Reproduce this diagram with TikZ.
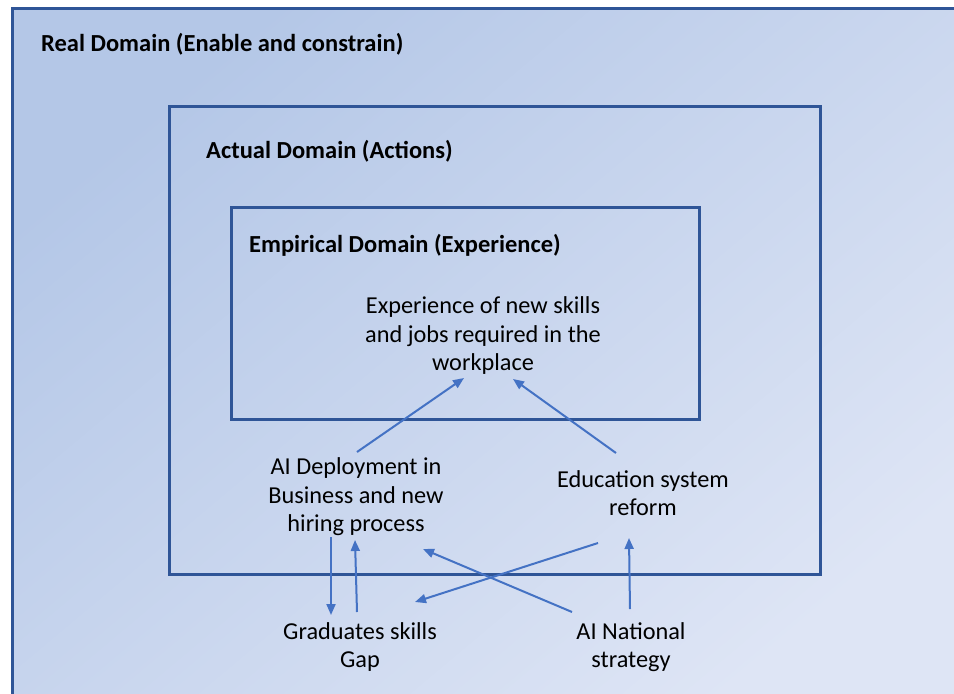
\documentclass[tikz,border=0pt]{standalone}
\usepackage{fontspec}
\setmainfont{Carlito}
\usetikzlibrary{arrows.meta}
\definecolor{boxblue}{HTML}{2F5597}
\definecolor{arrblue}{HTML}{4472C4}
\definecolor{gradA}{HTML}{B4C7E7}
\definecolor{gradB}{HTML}{DEE5F5}
\tikzset{
  domainbox/.style={draw=boxblue,line width=3pt},
  title/.style={anchor=base west,inner sep=0pt,font=\fontsize{24.5}{28}\selectfont\bfseries},
  body/.style={align=center,inner sep=0pt,font=\fontsize{24.3}{28.5}\selectfont},
  arr/.style={draw=arrblue,line width=2pt,-{Triangle[length=11pt,width=9pt]}}
}
\begin{document}
\begin{tikzpicture}[x=1pt,y=-1pt]
\useasboundingbox (0,0) rectangle (954,694);
\fill[white] (0,0) rectangle (954,694);
\shade[top color=gradA,bottom color=gradB,shading angle=40] (12,8) rectangle (970,710);
\draw[domainbox] (12,712) -- (12,8) -- (970,8);
\draw[domainbox] (169,106) rectangle (820,574);
\draw[domainbox] (231,207) rectangle (699,419);
\node[title] (real) at (41,51) {Real Domain (Enable and constrain)};
\node[title] (actual) at (206,158) {Actual Domain (Actions)};
\node[title] (empir) at (249,252) {Empirical Domain (Experience)};
\node[body] (exp) at (483,336) {Experience of new skills\\and jobs required in the\\workplace};
\node[body] (dep) at (356,497) {AI Deployment in\\Business and new\\hiring process};
\node[body] (edu) at (643,493) {Education system\\reform};
\node[body] (grad) at (360,647) {Graduates skills\\Gap};
\node[body] (nat) at (631,647) {AI National\\strategy};
\draw[arr] ([shift={(1,-45)}]dep.center) -- ([shift={(-19,42)}]exp.center);
\draw[arr] ([shift={(-27,-40)}]edu.center) -- ([shift={(30,43)}]exp.center);
\draw[arr] ([shift={(-25,40)}]dep.center) -- ([shift={(-29,-32)}]grad.center);
\draw[arr] ([shift={(-3,-35)}]grad.center) -- ([shift={(-1,43)}]dep.center);
\draw[arr] ([shift={(-59,-35)}]nat.center) -- ([shift={(67,52)}]dep.center);
\draw[arr] ([shift={(-45,50)}]edu.center) -- ([shift={(55,-45)}]grad.center);
\draw[arr] ([shift={(-1,-38)}]nat.center) -- ([shift={(-14,45)}]edu.center);
\end{tikzpicture}
\end{document}
